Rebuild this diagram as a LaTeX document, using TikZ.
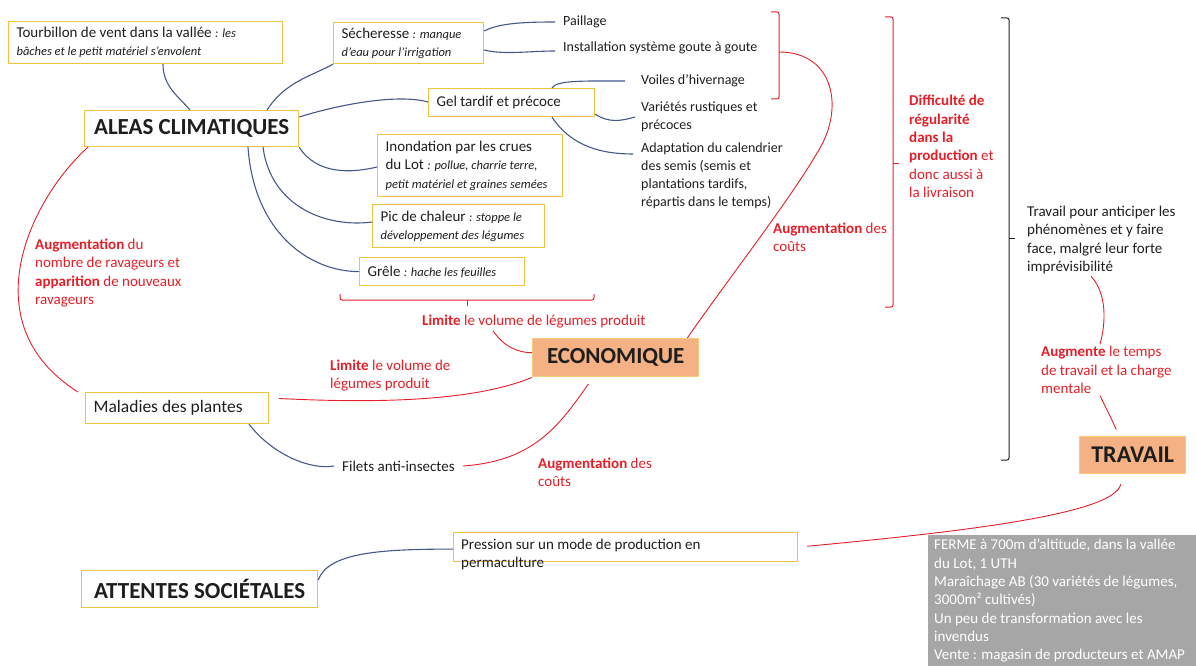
\documentclass[tikz,border=0pt]{standalone}
\usepackage{fontspec}
\setmainfont{Carlito}

\definecolor{jaune}{RGB}{242,195,60}
\definecolor{rouge}{RGB}{230,30,40}
\definecolor{bleu}{RGB}{68,88,140}
\definecolor{saumon}{RGB}{244,177,131}
\definecolor{bordsaumon}{RGB}{247,203,120}
\definecolor{gris}{RGB}{166,166,166}
\definecolor{encre}{RGB}{30,30,30}

\newcommand{\corps}{\fontsize{15}{18.3}\selectfont}
\newcommand{\petit}{\fontsize{14}{18}\selectfont}
\newcommand{\grand}{\fontsize{23}{27}\selectfont\bfseries}
\newcommand{\expl}[1]{{\fontsize{12.5}{18}\selectfont\itshape #1}}
\newcommand{\fort}[1]{\textbf{#1}}

\tikzset{
  boite/.style={draw=jaune, line width=1.2pt, anchor=north west, align=flush left,
    inner xsep=8pt, inner ysep=3pt, text=encre, font=\corps},
  titre/.style={boite, align=center, font=\grand, inner xsep=4pt},
  pole/.style={titre, fill=saumon, draw=bordsaumon, line width=1.4pt},
  texte/.style={anchor=west, align=left, inner xsep=8pt, inner ysep=2pt,
    text=encre, font=\corps},
  technique/.style={texte, font=\petit},
  note/.style={texte, text=rouge},
  lien/.style={draw=bleu, line width=1.1pt},
  effet/.style={draw=rouge, line width=0.9pt},
  crochet/.style={line width=1pt, rounded corners=2pt},
}

\begin{document}
\begin{tikzpicture}[x=1pt, y=-1pt]

    \useasboundingbox (0,0) rectangle (1196,666);

    % Aléas climatiques
    \node[titre, minimum width=214pt, minimum height=36pt] (aleas) at (84,110) {ALEAS CLIMATIQUES};
    \node[boite, text width=258pt, minimum height=42pt] (tourbillon) at (8,21)
        {Tourbillon de vent dans la vallée \expl{: les}\\\expl{bâches et le petit matériel s’envolent}};
    \node[boite, text width=134pt, minimum height=41pt] (secheresse) at (333,22)
        {Sécheresse \expl{: manque}\\\expl{d’eau pour l’irrigation}};
    \node[boite, text width=150pt, minimum height=28pt] (gel) at (428,88) {Gel tardif et précoce};
    \node[boite, text width=169pt, minimum height=62pt] (inondation) at (377,134)
        {Inondation par les crues\\du Lot \expl{: pollue, charrie terre,}\\\expl{petit matériel et graines semées}};
    \node[boite, text width=156pt, minimum height=43pt] (chaleur) at (372,204)
        {Pic de chaleur \expl{: stoppe le}\\\expl{développement des légumes}};
    \node[boite, text width=149pt, minimum height=28pt] (grele) at (359,257)
        {Grêle \expl{: hache les feuilles}};

    % Réponses techniques
    \node[technique] (paillage) at (555,22) {Paillage};
    \node[technique] (installation) at (555,48) {Installation système goute à goute};
    \node[technique] (voiles) at (633,81) {Voiles d’hivernage};
    \node[technique] (varietes) at (633,117) {Variétés rustiques et\\précoces};
    \node[technique] (adaptation) at (633,176)
        {Adaptation du calendrier\\des semis (semis et\\plantations tardifs,\\répartis dans le temps)};

    % Maladies
    \node[boite, text width=167pt, minimum height=31pt, font=\fontsize{17.5}{20}\selectfont] (maladies) at (85,392) {Maladies des plantes};
    \node[texte] (filets) at (334,466) {Filets anti-insectes};

    % Pôles
    \node[pole, minimum width=166pt, minimum height=38pt] (eco) at (532,338) {ECONOMIQUE};
    \node[pole, minimum width=106pt, minimum height=37pt, font=\fontsize{24}{28}\selectfont\bfseries] (travail) at (1079,436) {TRAVAIL};
    \node[titre, minimum width=236pt, minimum height=37pt] (attentes) at (81,570) {ATTENTES SOCIÉTALES};

    \node[boite, minimum width=344pt, minimum height=29pt, inner sep=0pt] (pression) at (453,532) {};
    \node[texte, anchor=north west] (pressiontxt) at (453,537)
        {Pression sur un mode de production en\\permaculture};

    % Conséquences
    \node[note] (ravageurs) at (27,273)
        {\fort{Augmentation} du\\nombre de ravageurs et\\\fort{apparition} de nouveaux\\ravageurs};
    \node[note] (limite1) at (414,322) {\fort{Limite} le volume de légumes produit};
    \node[note] (limite2) at (322,375.5) {\fort{Limite} le volume de\\légumes produit};
    \node[note] (couts1) at (765,237) {\fort{Augmentation} des\\coûts};
    \node[note] (couts2) at (530,472.5) {\fort{Augmentation} des\\coûts};
    \node[note] (difficulte) at (901,146.5)
        {\fort{Difficulté de}\\\fort{régularité}\\\fort{dans la}\\\fort{production} et\\donc aussi à\\la livraison};
    \node[texte] (travailtxt) at (1019,240)
        {Travail pour anticiper les\\phénomènes et y faire\\face, malgré leur forte\\imprévisibilité};
    \node[note] (augmente) at (1033,370)
        {\fort{Augmente} le temps\\de travail et la charge\\mentale};

    % Ferme
    \node[anchor=north west, fill=gris, minimum width=268pt, minimum height=131pt,
          text width=262pt, inner xsep=6pt, align=flush left, text=white, font=\corps] (ferme) at (928,535)
        {FERME à 700m d’altitude, dans la vallée\\du Lot, 1 UTH\\Maraîchage AB (30 variétés de légumes,\\3000m² cultivés)\\Un peu de transformation avec les\\invendus\\Vente : magasin de producteurs et AMAP};

    % Branches
    \draw[lien] ([xshift=155pt]tourbillon.south west) .. controls +(0,22) and +(-12,-14) .. ([xshift=106pt]aleas.north west);
    \draw[lien] ([xshift=183pt]aleas.north west) .. controls +(18,-28) and +(-22,12) .. (secheresse.south west);
    \draw[lien] ([yshift=-7pt]aleas.north east) .. controls +(45,-14) and +(-28,-8) .. ([yshift=-14pt]gel.north west);
    \draw[lien] (aleas.south east) .. controls +(18,28) and +(-25,6) .. ([yshift=-33pt]inondation.north west);
    \draw[lien] ([xshift=179pt]aleas.south west) .. controls +(8,60) and +(-45,6) .. ([yshift=-18pt]chaleur.north west);
    \draw[lien] ([xshift=164pt]aleas.south west) .. controls +(6,85) and +(-50,0) .. (grele.west);

    \draw[lien] ([yshift=-9pt]secheresse.north east) .. controls +(15,-8) and +(-30,0) .. (paillage.west);
    \draw[lien] ([yshift=-28pt]secheresse.north east) .. controls +(20,5) and +(-25,0) .. ([yshift=-3pt]installation.west);
    \draw[lien] ([xshift=124pt]gel.north west) .. controls +(4,-8) and +(-40,0) .. ([xshift=-8pt]voiles.west);
    \draw[lien] ([yshift=3pt]gel.south east) .. controls +(14,9) and +(-14,4) .. ([xshift=2pt]varietes.west);
    \draw[lien] ([xshift=124pt]gel.south west) .. controls +(20,30) and +(-30,0) .. ([yshift=22pt]adaptation.west);

    \draw[lien] ([xshift=164pt]maladies.south west) .. controls +(25,32) and +(-22,4) .. (filets.west);
    \draw[lien] ([yshift=-10pt]attentes.north east) .. controls +(10,-28) and +(-70,0) .. ([yshift=-2pt]pression.west);

    % Crochets
    \draw[crochet, rouge] (771,12) -- (779,12) -- (779,99) -- (771,99);
    \draw[crochet, rouge] (885,17) -- (893,17) -- (893,307) -- (885,307);
    \draw[crochet, rouge] (893,163) -- (899,163);
    \draw[crochet, encre] (1001,18) -- (1009,18) -- (1009,460) -- (1001,460);
    \draw[crochet, encre] (1009,238) -- (1015,238);
    \draw[crochet, rouge] (340,294) -- (340,300) -- (594,300) -- (594,294);
    \draw[crochet, rouge] (467,300) -- (467,306);
    \coordinate (crochet1) at (779,52);

    % Effets
    \draw[effet] ([xshift=4pt]aleas.south west) .. controls +(-58,52) and +(-108,-68) .. ([xshift=-7pt]maladies.north west);
    \draw[effet] ([xshift=79pt]limite1.south west) .. controls +(10,15) and +(-15,0) .. ([yshift=5pt]eco.west);
    \draw[effet, shorten <=10pt] ([yshift=-6pt]maladies.north east) .. controls +(100,5) and +(-60,25) .. (eco.south west);
    \draw[effet, shorten >=8pt] (filets.east) .. controls +(70,-5) and +(-35,50) .. ([xshift=61pt]eco.south west);
    \draw[effet] (crochet1) .. controls (835,52) and (845,110) .. (817,153)
        .. controls (790,200) and (720,290) .. ([xshift=-12pt]eco.north east);
    \draw[effet] ([xshift=72pt]travailtxt.south west) .. controls +(16,18) and +(6,-22) .. ([xshift=67pt]augmente.north west);
    \draw[effet, shorten >=7pt] ([xshift=67pt]augmente.south west) .. controls +(6,12) and +(-6,-14) .. ([xshift=40pt]travail.north west);
    \draw[effet, shorten <=10pt, shorten >=9pt] ([xshift=-10pt]travail.south) .. controls +(-8,40) and +(160,-15) .. (pression.east);

\end{tikzpicture}
\end{document}
